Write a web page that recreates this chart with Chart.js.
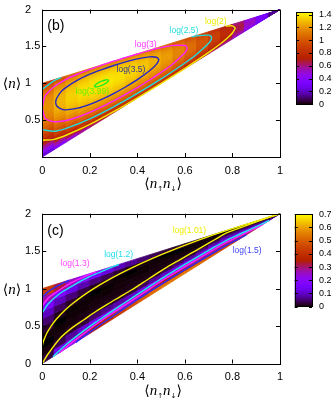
<!DOCTYPE html>
<html>
<head>
<meta charset="utf-8">
<script src="https://cdn.jsdelivr.net/npm/chart.js@4.4.1/dist/chart.umd.min.js"></script>
<style>
  html, body { margin: 0; padding: 0; background: #fff; }
  #wrap { position: relative; width: 332px; height: 399px; overflow: hidden; }
  canvas { position: absolute; }
</style>
</head>
<body>
<div id="wrap">
  <canvas id="mapB" width="290" height="199" style="left:0;top:0"></canvas>
  <canvas id="barB" width="44" height="120" style="left:288px;top:0"></canvas>
  <canvas id="mapC" width="290" height="200" style="left:0;top:199px"></canvas>
  <canvas id="barC" width="44" height="120" style="left:288px;top:199px"></canvas>
</div>
<script>
// cell columns: <n_up n_down> at the column centres
const docc = [0.025, 0.075, 0.125, 0.175, 0.225, 0.275, 0.325, 0.375, 0.425, 0.475,
  0.525, 0.575, 0.625, 0.675, 0.725, 0.775, 0.825, 0.875, 0.925, 0.975];
// cell rows: fraction of the way from the lower edge (<n> = 2d) to the upper edge (<n> = 1 + d)
const fracB = [0.025, 0.075, 0.125, 0.175, 0.225, 0.275, 0.325, 0.375, 0.425, 0.475,
  0.525, 0.575, 0.625, 0.675, 0.725, 0.775, 0.825, 0.875, 0.925, 0.975];
const fracC = [0.05, 0.15, 0.25, 0.35, 0.45, 0.55, 0.65, 0.75, 0.85, 0.95];

// panel (b): one row of values per column
const entropyB = [
  [0.248, 0.427, 0.569, 0.687, 0.789, 0.876, 0.951, 1.015, 1.069, 1.113, 1.146, 1.170, 1.184, 1.188, 1.180, 1.161, 1.127, 1.076, 1.002, 0.890],
  [0.391, 0.561, 0.695, 0.808, 0.904, 0.987, 1.058, 1.119, 1.170, 1.211, 1.243, 1.266, 1.279, 1.282, 1.275, 1.257, 1.224, 1.176, 1.106, 1.000],
  [0.494, 0.655, 0.782, 0.889, 0.980, 1.058, 1.126, 1.183, 1.231, 1.270, 1.301, 1.322, 1.335, 1.338, 1.331, 1.313, 1.283, 1.237, 1.171, 1.070],
  [0.574, 0.726, 0.846, 0.946, 1.032, 1.106, 1.170, 1.224, 1.269, 1.306, 1.335, 1.355, 1.367, 1.370, 1.364, 1.347, 1.318, 1.275, 1.212, 1.118],
  [0.637, 0.780, 0.892, 0.987, 1.067, 1.137, 1.197, 1.247, 1.290, 1.325, 1.351, 1.371, 1.382, 1.385, 1.379, 1.363, 1.336, 1.295, 1.237, 1.148],
  [0.686, 0.819, 0.924, 1.012, 1.088, 1.153, 1.209, 1.256, 1.296, 1.329, 1.354, 1.372, 1.382, 1.385, 1.379, 1.364, 1.339, 1.301, 1.246, 1.163],
  [0.721, 0.846, 0.943, 1.026, 1.096, 1.156, 1.208, 1.253, 1.290, 1.320, 1.343, 1.360, 1.370, 1.372, 1.367, 1.353, 1.330, 1.294, 1.243, 1.166],
  [0.746, 0.861, 0.951, 1.027, 1.092, 1.148, 1.197, 1.238, 1.272, 1.300, 1.322, 1.337, 1.346, 1.348, 1.343, 1.331, 1.309, 1.276, 1.229, 1.157],
  [0.759, 0.865, 0.948, 1.018, 1.078, 1.130, 1.174, 1.212, 1.243, 1.269, 1.289, 1.303, 1.311, 1.314, 1.309, 1.297, 1.277, 1.247, 1.204, 1.138],
  [0.762, 0.859, 0.935, 0.999, 1.054, 1.101, 1.141, 1.176, 1.205, 1.228, 1.246, 1.259, 1.267, 1.269, 1.265, 1.254, 1.236, 1.208, 1.168, 1.108],
  [0.756, 0.843, 0.912, 0.970, 1.019, 1.062, 1.099, 1.130, 1.156, 1.177, 1.193, 1.205, 1.212, 1.214, 1.210, 1.200, 1.184, 1.159, 1.123, 1.068],
  [0.739, 0.817, 0.879, 0.931, 0.975, 1.013, 1.046, 1.074, 1.097, 1.116, 1.131, 1.141, 1.147, 1.149, 1.145, 1.137, 1.122, 1.100, 1.068, 1.019],
  [0.712, 0.781, 0.835, 0.881, 0.920, 0.954, 0.983, 1.007, 1.028, 1.045, 1.058, 1.067, 1.072, 1.074, 1.071, 1.063, 1.050, 1.030, 1.002, 0.959],
  [0.674, 0.734, 0.781, 0.821, 0.855, 0.884, 0.909, 0.930, 0.948, 0.963, 0.974, 0.982, 0.986, 0.988, 0.985, 0.979, 0.967, 0.950, 0.926, 0.888],
  [0.625, 0.676, 0.716, 0.749, 0.778, 0.802, 0.824, 0.842, 0.857, 0.869, 0.879, 0.885, 0.889, 0.890, 0.888, 0.883, 0.873, 0.859, 0.838, 0.806],
  [0.563, 0.605, 0.638, 0.665, 0.688, 0.708, 0.726, 0.741, 0.753, 0.763, 0.771, 0.776, 0.780, 0.780, 0.779, 0.774, 0.766, 0.754, 0.737, 0.712],
  [0.487, 0.519, 0.545, 0.566, 0.584, 0.600, 0.614, 0.625, 0.635, 0.642, 0.649, 0.653, 0.655, 0.656, 0.655, 0.651, 0.645, 0.636, 0.623, 0.602],
  [0.394, 0.417, 0.435, 0.450, 0.463, 0.474, 0.484, 0.492, 0.499, 0.504, 0.509, 0.512, 0.514, 0.514, 0.513, 0.511, 0.506, 0.500, 0.490, 0.476],
  [0.277, 0.290, 0.301, 0.310, 0.318, 0.325, 0.331, 0.336, 0.340, 0.343, 0.346, 0.347, 0.349, 0.349, 0.348, 0.347, 0.344, 0.340, 0.335, 0.326],
  [0.120, 0.125, 0.129, 0.132, 0.134, 0.136, 0.138, 0.140, 0.141, 0.142, 0.143, 0.144, 0.144, 0.145, 0.144, 0.144, 0.143, 0.141, 0.140, 0.137],
];

// panel (c)
const infoC = [
  [0.031, 0.006, 0.000, 0.004, 0.020, 0.050, 0.097, 0.166, 0.268, 0.433],
  [0.135, 0.035, 0.007, 0.003, 0.000, 0.012, 0.042, 0.094, 0.180, 0.326],
  [0.219, 0.076, 0.016, 0.005, 0.003, 0.001, 0.016, 0.054, 0.124, 0.253],
  [0.285, 0.109, 0.028, 0.010, 0.003, 0.002, 0.004, 0.029, 0.085, 0.198],
  [0.345, 0.148, 0.048, 0.009, 0.006, 0.003, 0.000, 0.013, 0.057, 0.154],
  [0.394, 0.183, 0.065, 0.013, 0.008, 0.002, 0.001, 0.005, 0.037, 0.119],
  [0.434, 0.211, 0.081, 0.014, 0.007, 0.005, 0.004, 0.001, 0.022, 0.091],
  [0.468, 0.240, 0.101, 0.022, 0.010, 0.006, 0.003, 0.000, 0.012, 0.069],
  [0.499, 0.275, 0.133, 0.043, 0.011, 0.006, 0.002, 0.002, 0.006, 0.050],
  [0.525, 0.314, 0.172, 0.071, 0.014, 0.007, 0.005, 0.004, 0.002, 0.036],
  [0.541, 0.345, 0.205, 0.103, 0.033, 0.009, 0.006, 0.003, 0.000, 0.024],
  [0.545, 0.362, 0.228, 0.128, 0.051, 0.012, 0.007, 0.003, 0.000, 0.016],
  [0.540, 0.376, 0.251, 0.153, 0.077, 0.023, 0.009, 0.003, 0.002, 0.009],
  [0.527, 0.384, 0.272, 0.180, 0.107, 0.049, 0.012, 0.004, 0.004, 0.005],
  [0.503, 0.383, 0.288, 0.207, 0.139, 0.083, 0.037, 0.010, 0.005, 0.002],
  [0.467, 0.371, 0.293, 0.226, 0.167, 0.116, 0.072, 0.035, 0.010, 0.000],
  [0.409, 0.330, 0.264, 0.206, 0.155, 0.110, 0.071, 0.037, 0.012, 0.000],
  [0.335, 0.274, 0.222, 0.176, 0.135, 0.097, 0.065, 0.036, 0.014, 0.000],
  [0.239, 0.198, 0.163, 0.131, 0.102, 0.076, 0.052, 0.031, 0.013, 0.001],
  [0.107, 0.090, 0.075, 0.062, 0.049, 0.038, 0.027, 0.017, 0.008, 0.002],
];

// contour lines, [<n_up n_down>, <n>]
const contB2 = [[0.773, 1.773], [0.79, 1.780], [0.80, 1.778], [0.81, 1.758], [0.8115, 1.749], [0.81, 1.734],
  [0.80, 1.683], [0.79, 1.648], [0.773, 1.598], [0.75, 1.537], [0.7, 1.419], [0.6, 1.203], [0.5, 1.0],
  [0.4, 0.803], [0.3, 0.615], [0.2, 0.442], [0.1, 0.295], [0.05, 0.240], [0, 0.227]];
const contB25a = [[0, 0.918], [0.05, 1.036], [0.08, 1.08]];
const contB25b = [[0.628, 1.628], [0.65, 1.644], [0.7, 1.653], [0.71, 1.637], [0.712, 1.616], [0.71, 1.590],
  [0.7, 1.542], [0.65, 1.394], [0.628, 1.340], [0.6, 1.275], [0.5, 1.060], [0.4, 0.863], [0.3, 0.681],
  [0.2, 0.518], [0.1, 0.388], [0.05, 0.349], [0, 0.372]];
const contB3 = [[0, 0.667], [0.01, 0.815], [0.02, 0.862], [0.05, 0.956], [0.1, 1.054], [0.15, 1.127], [0.2, 1.190],
  [0.25, 1.246], [0.3, 1.300], [0.333, 1.333], [0.4, 1.398], [0.45, 1.443], [0.5, 1.484], [0.55, 1.514],
  [0.6, 1.513], [0.607, 1.501], [0.609, 1.478], [0.607, 1.450], [0.6, 1.416], [0.55, 1.266], [0.5, 1.148],
  [0.45, 1.041], [0.4, 0.942], [0.333, 0.818], [0.3, 0.761], [0.25, 0.680], [0.2, 0.606], [0.15, 0.543],
  [0.1, 0.496], [0.05, 0.478], [0.02, 0.507], [0.01, 0.537], [0, 0.667]];
const contB35 = [[0.056, 0.741], [0.06, 0.794], [0.08, 0.890], [0.1, 0.945], [0.15, 1.046], [0.2, 1.124],
  [0.25, 1.186], [0.3, 1.242], [0.35, 1.291], [0.4, 1.332], [0.45, 1.358], [0.48, 1.354], [0.49, 1.320],
  [0.48, 1.257], [0.45, 1.166], [0.4, 1.050], [0.35, 0.950], [0.3, 0.861], [0.25, 0.782], [0.2, 0.714],
  [0.15, 0.663], [0.1, 0.640], [0.08, 0.649], [0.06, 0.696], [0.056, 0.741]];
const contB399 = [[0.2806, 1.0408], [0.2716, 1.0491], [0.25, 1.0287], [0.2284, 0.9915], [0.2194, 0.9592],
  [0.2284, 0.9509], [0.25, 0.9713], [0.2716, 1.0085], [0.2806, 1.0408]];

const contC101lo = [[0, 0], [0.025, 0.13], [0.075, 0.337], [0.125, 0.475], [0.175, 0.584], [0.225, 0.694],
  [0.275, 0.793], [0.325, 0.887], [0.375, 0.981], [0.425, 1.083], [0.475, 1.187], [0.525, 1.287],
  [0.575, 1.378], [0.625, 1.469], [0.675, 1.561], [0.725, 1.652], [0.775, 1.743], [0.8235, 1.8],
  [0.9096, 1.9], [1, 2]];
const contC101hi = [[0, 0.238], [0.0053, 0.3], [0.0184, 0.4], [0.0372, 0.5], [0.0616, 0.6], [0.0918, 0.7],
  [0.1276, 0.8], [0.1691, 0.9], [0.2162, 1.0], [0.2691, 1.1], [0.3276, 1.2], [0.3918, 1.3], [0.4616, 1.4],
  [0.5372, 1.5], [0.6184, 1.6], [0.7053, 1.7], [0.79, 1.79], [0.85, 1.85], [0.9, 1.9], [0.95, 1.95], [1, 2]];
const contC12lo = [[0.045, 0.09], [0.075, 0.180], [0.125, 0.316], [0.175, 0.439], [0.225, 0.553], [0.275, 0.659],
  [0.325, 0.766], [0.375, 0.870], [0.425, 0.974], [0.475, 1.078], [0.525, 1.179], [0.575, 1.276],
  [0.625, 1.370], [0.675, 1.463], [0.725, 1.556], [0.775, 1.645], [0.825, 1.719], [0.875, 1.792],
  [0.925, 1.865], [0.955, 1.91]];
const contC12hi = [[0, 0.675], [0.025, 0.797], [0.075, 0.938], [0.125, 1.033], [0.175, 1.122], [0.225, 1.196],
  [0.275, 1.262], [0.322, 1.322]];
const contC13lo = [[0.0735, 0.147], [0.125, 0.282], [0.175, 0.402], [0.225, 0.521], [0.275, 0.632],
  [0.325, 0.736], [0.375, 0.838], [0.425, 0.941], [0.475, 1.048], [0.525, 1.149], [0.575, 1.245],
  [0.625, 1.340], [0.675, 1.435], [0.725, 1.527], [0.775, 1.617], [0.825, 1.694], [0.875, 1.772],
  [0.925, 1.850], [0.9265, 1.853]];
const contC13hi = [[0, 0.768], [0.025, 0.873], [0.075, 0.988], [0.125, 1.084], [0.175, 1.156], [0.228, 1.228]];
const contC15lo = [[0.141, 0.282], [0.175, 0.364], [0.225, 0.476], [0.275, 0.584], [0.325, 0.692], [0.375, 0.798],
  [0.425, 0.903], [0.475, 1.006], [0.525, 1.107], [0.575, 1.204], [0.625, 1.300], [0.675, 1.394],
  [0.725, 1.486], [0.775, 1.576], [0.825, 1.660], [0.859, 1.718]];
const contC15hi = [[0, 0.884], [0.025, 0.960], [0.075, 1.054], [0.114, 1.114]];

// tick labels
const xTicks = [0, 0.2, 0.4, 0.6, 0.8, 1];
const yTicksB = [0.5, 1, 1.5, 2];
const yTicksC = [0, 0.5, 1, 1.5, 2];
const cbTicksB = [0, 0.2, 0.4, 0.6, 0.8, 1, 1.2, 1.4];
const cbTicksC = [0, 0.1, 0.2, 0.3, 0.4, 0.5, 0.6, 0.7];
const cbMaxB = 1.433;
const cbMaxC = 0.7;

const FONT = '"Liberation Sans", Arial, sans-serif';

// gnuplot rgbformulae 7,5,15
const palette = (v) => {
  v = Math.min(1, Math.max(0, v));
  const r = Math.sqrt(v), g = v * v * v, b = Math.max(0, Math.sin(2 * Math.PI * v));
  return `rgb(${Math.round(r * 255)},${Math.round(g * 255)},${Math.round(b * 255)})`;
};

const cellsPlugin = (cells, frac, cbMax) => ({
  id: 'cells',
  beforeDatasetsDraw(chart) {
    const { ctx, chartArea: a, scales: { x, y } } = chart;
    const hd = (docc[1] - docc[0]) / 2;
    const ht = (frac[1] - frac[0]) / 2;
    const px = (d, t) => [x.getPixelForValue(d), y.getPixelForValue(2 * d + t * (1 - d))];
    ctx.save();
    ctx.beginPath();
    ctx.rect(a.left, a.top, a.width, a.height);
    ctx.clip();
    ctx.lineWidth = 0.8;
    docc.forEach((d, i) => {
      frac.forEach((t, j) => {
        const col = palette(cells[i][j] / cbMax);
        const p = [px(d - hd, t - ht), px(d + hd, t - ht), px(d + hd, t + ht), px(d - hd, t + ht)];
        ctx.fillStyle = col;
        ctx.strokeStyle = col;
        ctx.beginPath();
        ctx.moveTo(p[0][0], p[0][1]);
        for (let k = 1; k < 4; k++) ctx.lineTo(p[k][0], p[k][1]);
        ctx.closePath();
        ctx.fill();
        ctx.stroke();
      });
    });
    ctx.restore();
  },
});

const drawPiece = (ctx, parts, cx, cy) => {
  let w = 0;
  parts.forEach(([t, f]) => { ctx.font = f; w += ctx.measureText(t).width; });
  let xp = cx - w / 2;
  ctx.textAlign = 'left';
  ctx.textBaseline = 'alphabetic';
  parts.forEach(([t, f, dy]) => {
    ctx.font = f;
    ctx.fillText(t, xp, cy + dy);
    xp += ctx.measureText(t).width;
  });
};

const decorPlugin = (tag, labels, yTicks) => ({
  id: 'decor',
  afterDatasetsDraw(chart) {
    const { ctx, chartArea: a, scales: { x, y } } = chart;
    ctx.save();
    // frame
    ctx.strokeStyle = '#000';
    ctx.lineWidth = 1;
    ctx.strokeRect(Math.round(a.left) + 0.5, Math.round(a.top) + 0.5,
      Math.round(a.width), Math.round(a.height));
    // inward tick marks
    ctx.beginPath();
    xTicks.forEach((v) => {
      const p = Math.round(x.getPixelForValue(v)) + 0.5;
      ctx.moveTo(p, a.bottom); ctx.lineTo(p, a.bottom - 4);
      ctx.moveTo(p, a.top); ctx.lineTo(p, a.top + 4);
    });
    yTicks.forEach((v) => {
      const p = Math.round(y.getPixelForValue(v)) + 0.5;
      ctx.moveTo(a.left, p); ctx.lineTo(a.left + 4, p);
      ctx.moveTo(a.right, p); ctx.lineTo(a.right - 4, p);
    });
    ctx.stroke();
    // contour labels
    ctx.font = `8.5px ${FONT}`;
    ctx.textAlign = 'center';
    ctx.textBaseline = 'middle';
    labels.forEach(([txt, d, n, col]) => {
      ctx.fillStyle = col;
      ctx.fillText(txt, x.getPixelForValue(d), y.getPixelForValue(n));
    });
    // panel tag
    ctx.fillStyle = '#000';
    ctx.font = `14px ${FONT}`;
    ctx.textAlign = 'left';
    ctx.fillText(tag, a.left + 5, a.top + 17);
    // axis titles
    const big = '14px "DejaVu Sans"';
    const it = 'italic 15px "Liberation Serif", "DejaVu Serif"';
    const sm = '7px "DejaVu Sans"';
    drawPiece(ctx, [['\u27E8', big, 0], ['n', it, 0], ['\u2191', sm, 3], ['n', it, 0], ['\u2193', sm, 3], ['\u27E9', big, 0]],
      (a.left + a.right) / 2 + 2, a.bottom + 31);
    drawPiece(ctx, [['\u27E8', big, 0], ['n', it, 0], ['\u27E9', big, 0]], 12, y.getPixelForValue(1) + 5);
    ctx.restore();
  },
});

const line = (pts, color) => ({
  data: pts.map(([d, n]) => ({ x: d, y: n })),
  showLine: true,
  borderColor: color,
  borderWidth: 1.4,
  pointRadius: 0,
  tension: 0.3,
});

const buildPanel = (id, cells, frac, cbMax, sets, labels, tag, yTicks, padTop, xHeight) => {
  new Chart(document.getElementById(id), {
    type: 'scatter',
    data: { datasets: sets },
    options: {
      responsive: false,
      animation: false,
      events: [],
      layout: { padding: { left: 25, right: 8, top: padTop, bottom: 0 } },
      plugins: { legend: { display: false }, tooltip: { enabled: false } },
      scales: {
        x: {
          type: 'linear', min: 0, max: 1,
          afterBuildTicks: (s) => { s.ticks = xTicks.map((v) => ({ value: v })); },
          afterFit: (s) => { s.height = xHeight; },
          grid: { display: false, drawTicks: false },
          border: { display: false },
          ticks: { color: '#000', font: { family: FONT, size: 11 }, padding: 7, maxRotation: 0, autoSkip: false,
            callback: (v) => String(v) },
        },
        y: {
          type: 'linear', min: 0, max: 2,
          afterBuildTicks: (s) => { s.ticks = yTicks.map((v) => ({ value: v })); },
          afterFit: (s) => { s.width = 17.3; },
          grid: { display: false, drawTicks: false },
          border: { display: false },
          ticks: { color: '#000', font: { family: FONT, size: 11 }, crossAlign: 'far', autoSkip: false,
            callback: (v) => String(v) },
        },
      },
    },
    plugins: [cellsPlugin(cells, frac, cbMax), decorPlugin(tag, labels, yTicks)],
  });
};

const buildBar = (id, cbMax, ticks, pad) => {
  new Chart(document.getElementById(id), {
    type: 'scatter',
    data: { datasets: [] },
    options: {
      responsive: false,
      animation: false,
      events: [],
      layout: { padding: pad },
      plugins: { legend: { display: false }, tooltip: { enabled: false } },
      scales: {
        x: { display: false, min: 0, max: 1 },
        y: {
          position: 'right', min: 0, max: cbMax,
          afterBuildTicks: (s) => { s.ticks = ticks.map((v) => ({ value: v })); },
          afterFit: (s) => { s.width = 20; },
          grid: { display: false, drawTicks: false },
          border: { display: false },
          ticks: { color: '#000', font: { family: FONT, size: 9 }, padding: 7, autoSkip: false,
            callback: (v) => String(v) },
        },
      },
    },
    plugins: [{
      id: 'gradient',
      beforeDatasetsDraw(chart) {
        const { ctx, chartArea: a, scales: { y } } = chart;
        ctx.save();
        for (let py = Math.floor(a.top); py < a.bottom; py++) {
          ctx.fillStyle = palette(y.getValueForPixel(py + 0.5) / cbMax);
          ctx.fillRect(a.left, py, a.width, 1);
        }
        ctx.strokeStyle = '#000';
        ctx.lineWidth = 1;
        ctx.strokeRect(Math.round(a.left) + 0.5, Math.round(a.top) + 0.5, Math.round(a.width), Math.round(a.height));
        ctx.beginPath();
        ticks.forEach((v) => {
          const p = Math.round(y.getPixelForValue(v)) + 0.5;
          ctx.moveTo(a.left, p); ctx.lineTo(a.left + 3, p);
          ctx.moveTo(a.right, p); ctx.lineTo(a.right - 3, p);
        });
        ctx.stroke();
        ctx.restore();
      },
    }],
  });
};

buildPanel('mapB', entropyB, fracB, cbMaxB, [
  line(contB2, '#f4e800'),
  line(contB25a, '#22dcdc'),
  line(contB25b, '#22dcdc'),
  line(contB3, '#ff22ff'),
  line(contB35, '#2424c8'),
  line(contB399, '#22ee22'),
], [
  ['log(2)', 0.73, 1.83, '#eeee00'],
  ['log(2.5)', 0.596, 1.71, '#22dddd'],
  ['log(3)', 0.435, 1.52, '#ff33ff'],
  ['log(3.5)', 0.373, 1.19, '#333399'],
  ['log(3.99)', 0.21, 0.892, '#66ee00'],
], '(b)', yTicksB, 7.5, 42);

buildPanel('mapC', infoC, fracC, cbMaxC, [
  line(contC101lo, '#f4f000'),
  line(contC101hi, '#f4f000'),
  line(contC12lo, '#22e8f0'),
  line(contC12hi, '#22e8f0'),
  line(contC13lo, '#ff22ff'),
  line(contC13hi, '#ff22ff'),
  line(contC15lo, '#2a2aff'),
  line(contC15hi, '#2a2aff'),
], [
  ['log(1.3)', 0.138, 1.327, '#ff44ff'],
  ['log(1.2)', 0.321, 1.453, '#22ddee'],
  ['log(1.01)', 0.619, 1.771, '#eeee00'],
  ['log(1.5)', 0.862, 1.513, '#4444ff'],
], '(c)', yTicksC, 14.7, 35.5);

buildBar('barB', cbMaxB, cbTicksB, { left: 8, right: 0, top: 8.3, bottom: 15.7 });
buildBar('barC', cbMaxC, cbTicksC, { left: 6.7, right: 0, top: 15.3, bottom: 8 });
</script>
</body>
</html>
